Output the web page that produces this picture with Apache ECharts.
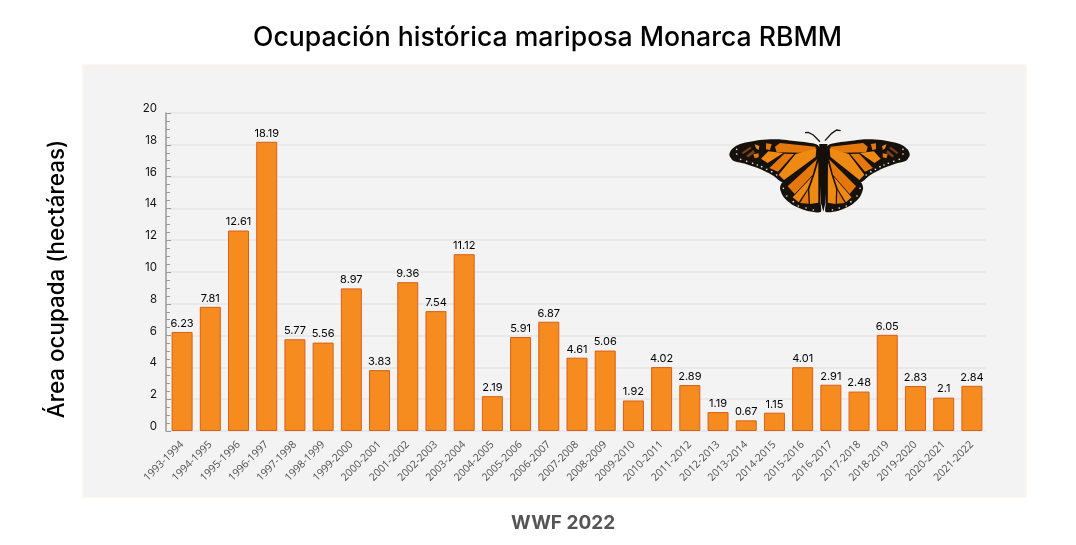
<!DOCTYPE html>
<html>
<head>
<meta charset="UTF-8">
<title>Ocupación histórica mariposa Monarca RBMM</title>
<script src="https://cdn.jsdelivr.net/npm/echarts@6/dist/echarts.min.js"></script>
<style>
html, body { margin: 0; padding: 0; background: #fff; }
#chart { width: 1076px; height: 545px; }
</style>
</head>
<body>
<div id="chart"></div>
<script>
var seasons = ['1993-1994','1994-1995','1995-1996','1996-1997','1997-1998','1998-1999','1999-2000','2000-2001','2001-2002','2002-2003','2003-2004','2004-2005','2005-2006','2006-2007','2007-2008','2008-2009','2009-2010','2010-2011','2011-2012','2012-2013','2013-2014','2014-2015','2015-2016','2016-2017','2017-2018','2018-2019','2019-2020','2020-2021','2021-2022'];
var hectares = [6.23,7.81,12.61,18.19,5.77,5.56,8.97,3.83,9.36,7.54,11.12,2.19,5.91,6.87,4.61,5.06,1.92,4.02,2.89,1.19,0.67,1.15,4.01,2.91,2.48,6.05,2.83,2.1,2.84];

// mariposa decorativa, coordenadas a escala 3x del recorte (se reduce en el grupo)
var wingBlack = [
  [[28,105],[35,88],[60,72],[120,60],[170,58],[230,64],[292,74],[302,95],[292,115],[240,152],[190,187],[160,167],[120,147],[70,130],[40,122]],
  [[186,188],[240,150],[297,108],[302,250],[302,276],[260,272],[220,256],[190,230],[180,205]]
];
var wingOrange = [
  [[165,80],[180,69],[287,80],[284,99],[170,97]],
  [[123,116],[145,94],[190,99],[143,129]],
  [[148,144],[193,101],[222,102],[174,155]],
  [[176,164],[227,102],[289,85],[287,110],[192,180]],
  [[203,199],[291,118],[278,165],[224,222]],
  [[218,232],[276,170],[262,208],[236,247]],
  [[240,249],[264,210],[266,251]],
  [[270,252],[268,208],[283,165],[295,125],[295,248]],
  [[138,70],[155,72],[150,90],[138,88]],
  [[104,73],[118,78],[116,90],[108,85]],
  [[100,103],[116,100],[116,112],[104,115]]
];
var wingBrown = [
  [[65,98],[90,80],[95,85],[70,102]],
  [[78,108],[100,90],[105,98],[85,112]]
];
var wingDots = [[50,88],[50,102],[62,118],[80,124],[98,130],[112,135],[125,140],[140,148],[155,155],[170,165],[190,205],[200,228],[220,245],[235,258],[258,264],[280,270]];

function mirrorX(p) { return [595 - 0.92 * p[0], p[1]]; }

function butterfly() {
  var items = [];
  function poly(points, fill, smooth) {
    items.push({ type: 'polygon', z: 20, shape: { points: points, smooth: smooth }, style: { fill: fill } });
    items.push({ type: 'polygon', z: 20, shape: { points: points.map(mirrorX), smooth: smooth }, style: { fill: fill } });
  }
  wingBlack.forEach(function (p) { poly(p, '#17110c', 0.25); });
  wingOrange.forEach(function (p, i) { poly(p, i % 2 ? '#ee8a14' : '#e5780c', 0); });
  wingBrown.forEach(function (p) { poly(p, '#7a4317', 0); });
  wingDots.forEach(function (p) {
    [p, mirrorX(p)].forEach(function (c) {
      items.push({ type: 'circle', z: 21, shape: { cx: c[0], cy: c[1], r: 2.5 }, style: { fill: '#e8e8e8' } });
    });
  });
  items.push({ type: 'polygon', z: 22, shape: { points: [[298,72],[322,72],[325,110],[316,250],[310,275],[303,250],[296,110]] }, style: { fill: '#140f0b' } });
  items.push({ type: 'polyline', z: 22, shape: { points: [[300,65],[280,45],[265,37],[255,38]] }, style: { stroke: '#1a1410', lineWidth: 4, fill: null } });
  items.push({ type: 'polyline', z: 22, shape: { points: [[315,62],[335,40],[350,30],[362,32]] }, style: { stroke: '#1a1410', lineWidth: 4, fill: null } });
  return { type: 'group', x: 720, y: 120, scaleX: 1 / 3, scaleY: 1 / 3, silent: true, z: 20, children: items };
}

var chart = echarts.init(document.getElementById('chart'), null, { renderer: 'canvas' });
chart.setOption({
  animation: false,
  backgroundColor: '#ffffff',
  textStyle: { fontFamily: 'Inter' },
  graphic: [
    { type: 'rect', z: -10, shape: { x: 83, y: 65, width: 943, height: 432 }, style: { fill: '#f3f3f3', stroke: '#fbf4ee', lineWidth: 1.5 } },
    { type: 'text', x: 253, y: 24, style: { text: 'Ocupación histórica mariposa Monarca RBMM', fontFamily: 'Inter', fontSize: 26.6, fontWeight: 500, fill: '#000' } },
    { type: 'text', x: 511, y: 514, style: { text: 'WWF 2022', fontFamily: 'Inter', fontSize: 19, fontWeight: 700, fill: '#555555' } },
    butterfly()
  ],
  grid: { left: 168, right: 90, top: 113, height: 318 },
  xAxis: {
    type: 'category',
    data: seasons,
    axisLine: { show: false },
    axisTick: { show: false },
    axisLabel: { interval: 0, rotate: 45, margin: 12, fontFamily: 'Open Sans', fontSize: 10.5, color: '#505050' }
  },
  yAxis: {
    type: 'value',
    min: 0, max: 20, interval: 2,
    offset: 2,
    name: 'Área ocupada (hectáreas)',
    nameLocation: 'middle',
    nameGap: 98,
    nameRotate: 90,
    nameTextStyle: { fontFamily: 'Inter', fontSize: 22.4, fontWeight: 500, color: '#000', padding: [0, 14, 0, 0] },
    axisLine: { show: true, lineStyle: { color: '#999999', width: 1.5 } },
    axisTick: { show: true, inside: true, length: 5, lineStyle: { color: '#999999' } },
    minorTick: { show: true, splitNumber: 4, length: 4, lineStyle: { color: '#999999' } },
    axisLabel: { margin: 9, fontSize: 11.5, color: '#111', verticalAlign: 'bottom', lineHeight: 9 },
    splitLine: { show: true, lineStyle: { color: '#e6e6e6', width: 1.5 } }
  },
  series: [{
    type: 'bar',
    data: hectares,
    barWidth: 21,
    itemStyle: { color: '#f68b1f', borderColor: '#d8601a', borderWidth: 1 },
    label: { show: true, position: 'top', distance: 3, fontSize: 11, color: '#000' }
  }]
});
</script>
</body>
</html>
